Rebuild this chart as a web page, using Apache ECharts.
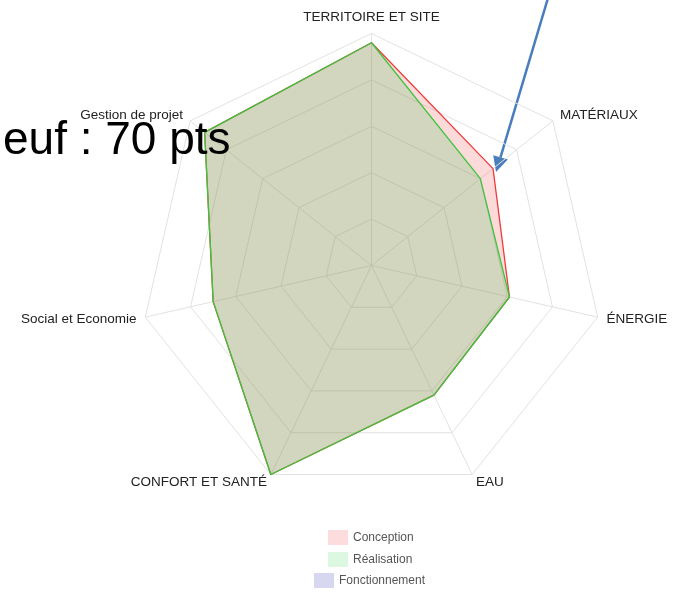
<!DOCTYPE html>
<html>
<head>
<meta charset="utf-8">
<style>
  html, body { margin: 0; padding: 0; background: #fff; overflow: hidden; }
  #chart { width: 683px; height: 598px; }
</style>
<script src="https://cdn.jsdelivr.net/npm/echarts@6/dist/echarts.min.js"></script>
</head>
<body>
<div id="chart"></div>
<script>
// Themes, listed clockwise starting from the top axis
const categories = [
  'TERRITOIRE ET SITE',
  'MATÉRIAUX',
  'ÉNERGIE',
  'EAU',
  'CONFORT ET SANTÉ',
  'Social et Economie',
  'Gestion de projet'
];
const axisMax = 100;

// Scores per phase (same clockwise order as categories)
const conception  = [96, 67, 61, 62, 100, 70, 92];
const realisation = [96, 60, 61, 62, 100, 70, 92];
const fonctionnement = [];

const seriesNames = ['Conception', 'Réalisation', 'Fonctionnement'];
const headline = 'euf : 70 pts';

// ECharts lays radar axes out counter-clockwise, so keep the first axis
// and reverse the rest to read clockwise on screen.
function toRadarOrder(arr) {
  return [arr[0]].concat(arr.slice(1).reverse());
}

const indicators = toRadarOrder(categories).map(name => ({ name: name, max: axisMax }));

const lineColors = ['#ee3b3b', '#3cc43c', '#5555dd'];
const fillColors = ['rgba(240,70,70,0.2)', 'rgba(70,200,90,0.22)', 'rgba(100,100,220,0.25)'];
const swatchColors = ['#fcdcdc', '#dcf8e1', '#d7d7f0'];

const values = [conception, realisation, fonctionnement];

const series = seriesNames.map((name, i) => ({
  type: 'radar',
  name: name,
  symbol: 'none',
  itemStyle: { color: swatchColors[i] },
  lineStyle: { color: lineColors[i], width: 1.3, opacity: 1 },
  areaStyle: { color: fillColors[i], opacity: 1 },
  data: values[i].length ? [{ value: toRadarOrder(values[i]), name: name }] : []
}));

const legendLeft = [323, 323, 309];
const legendTop = [525, 547, 568];
const legends = seriesNames.map((name, i) => ({
  data: [{ name: name, icon: 'rect', itemStyle: { color: swatchColors[i] } }],
  left: legendLeft[i],
  top: legendTop[i],
  orient: 'vertical',
  itemWidth: 20,
  itemHeight: 15,
  itemGap: 4,
  selectedMode: false,
  textStyle: { color: '#555', fontSize: 12, fontFamily: 'Liberation Sans, Arial, sans-serif' }
}));

const chart = echarts.init(document.getElementById('chart'), null, { renderer: 'canvas' });

chart.setOption({
  animation: false,
  backgroundColor: '#ffffff',
  title: {
    text: headline,
    left: -2,
    top: 113,
    textStyle: {
      fontSize: 46,
      fontWeight: 'normal',
      color: '#000',
      fontFamily: 'Liberation Sans, Arial, sans-serif'
    }
  },
  legend: legends,
  radar: {
    center: [371.5, 265.5],
    radius: 232,
    startAngle: 90,
    splitNumber: 5,
    shape: 'polygon',
    indicator: indicators,
    axisName: {
      color: '#222',
      fontSize: 13.5,
      fontFamily: 'Liberation Sans, Arial, sans-serif'
    },
    nameGap: 9,
    splitArea: { show: false },
    splitLine: { lineStyle: { color: '#e2e2e2', width: 1 } },
    axisLine: { lineStyle: { color: '#e2e2e2', width: 1 } }
  },
  series: series,
  graphic: [
    {
      type: 'group',
      z: 100,
      children: [
        {
          type: 'line',
          shape: { x1: 548, y1: -2, x2: 500.4, y2: 157.6 },
          style: { stroke: '#4a7ebb', lineWidth: 2.5 }
        },
        {
          type: 'polygon',
          shape: { points: [[496, 172], [493.2, 155.2], [507.8, 159.6]] },
          style: { fill: '#4a7ebb' }
        }
      ]
    }
  ]
});
</script>
</body>
</html>
